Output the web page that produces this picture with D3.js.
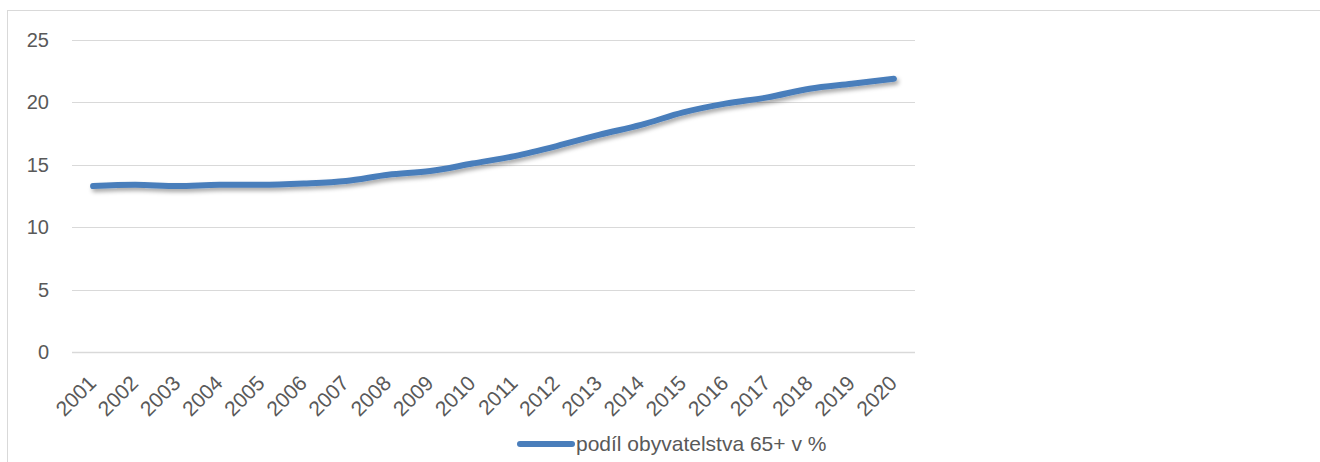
<!DOCTYPE html>
<html>
  <head>
    <style>
      body {
        margin: 0;
        background: #fff;
      }
      svg {
        display: block;
        font-family: "Liberation Sans", Arial, sans-serif;
      }
      .grid line {
        stroke: #d9d9d9;
        stroke-width: 1px;
      }
      .tick-label {
        fill: #595959;
        font-size: 20px;
      }
    </style>
  </head>
  <body>
    <script src="https://d3js.org/d3.v7.min.js"></script>
    <script>
      const years = ["2001", "2002", "2003", "2004", "2005", "2006", "2007", "2008", "2009", "2010",
          "2011", "2012", "2013", "2014", "2015", "2016", "2017", "2018", "2019", "2020"];
      const share = [13.3, 13.4, 13.3, 13.4, 13.4, 13.5, 13.7, 14.2, 14.5, 15.1,
          15.7, 16.5, 17.4, 18.2, 19.2, 19.9, 20.4, 21.1, 21.5, 21.9];
      const yTicks = [0, 5, 10, 15, 20, 25];
      const seriesName = "podíl obyvatelstva 65+ v %";

      const width = 1320,
          height = 462,
          margin = {left: 72, right: 405, top: 40, bottom: 110},
          blue = "#4a7ebb";

      const svg = d3.select("body").append("svg")
          .attr("width", width)
          .attr("height", height);

      const defs = svg.append("defs");
      defs.append("filter")
          .attr("id", "shadow")
          .attr("x", "-5%").attr("y", "-50%")
          .attr("width", "110%").attr("height", "200%")
        .append("feDropShadow")
          .attr("dx", 2)
          .attr("dy", 3)
          .attr("stdDeviation", 2)
          .attr("flood-color", "#000")
          .attr("flood-opacity", 0.35);

      // outer frame of the chart area
      svg.append("rect")
          .attr("x", 7.5)
          .attr("y", 10.5)
          .attr("width", width + 20)
          .attr("height", height + 20)
          .attr("fill", "none")
          .attr("stroke", "#d9d9d9");

      const x = d3.scaleBand()
          .domain(years)
          .range([margin.left, width - margin.right]);

      const y = d3.scaleLinear()
          .domain([0, 25])
          .range([height - margin.bottom, margin.top]);

      // gridlines
      svg.append("g")
          .attr("class", "grid")
        .selectAll("line")
        .data(yTicks)
        .join("line")
          .attr("x1", margin.left)
          .attr("x2", width - margin.right)
          .attr("y1", d => Math.round(y(d)) + 0.5)
          .attr("y2", d => Math.round(y(d)) + 0.5)
          .style("stroke-width", d => d === 0 ? 1.5 : 1);

      // y labels
      svg.append("g")
        .selectAll("text")
        .data(yTicks)
        .join("text")
          .attr("class", "tick-label")
          .attr("x", 49)
          .attr("y", d => y(d))
          .attr("dy", "0.35em")
          .attr("text-anchor", "end")
          .text(d => d);

      // x labels, rotated
      svg.append("g")
        .selectAll("text")
        .data(years)
        .join("text")
          .attr("class", "tick-label")
          .attr("transform", d => `translate(${x(d) + x.bandwidth() / 2 - 6}, ${y(0) + 22}) rotate(-45)`)
          .attr("text-anchor", "end")
          .attr("dy", "0.7em")
          .style("font-size", "21px")
          .text(d => d);

      const line = d3.line()
          .x((d, i) => x(years[i]) + x.bandwidth() / 2)
          .y(d => y(d))
          .curve(d3.curveMonotoneX);

      svg.append("path")
          .datum(share)
          .attr("d", line)
          .attr("fill", "none")
          .attr("stroke", blue)
          .attr("stroke-width", 6)
          .attr("stroke-linecap", "round")
          .attr("stroke-linejoin", "round")
          .attr("filter", "url(#shadow)");

      // legend
      const legend = svg.append("g")
          .attr("transform", "translate(520, 444)");

      legend.append("line")
          .attr("x1", 0)
          .attr("x2", 52)
          .attr("stroke", blue)
          .attr("stroke-width", 6)
          .attr("stroke-linecap", "round");

      legend.append("text")
          .attr("class", "tick-label")
          .attr("x", 56)
          .attr("dy", "0.35em")
          .style("font-size", "21px")
          .text(seriesName);
    </script>
  </body>
</html>
